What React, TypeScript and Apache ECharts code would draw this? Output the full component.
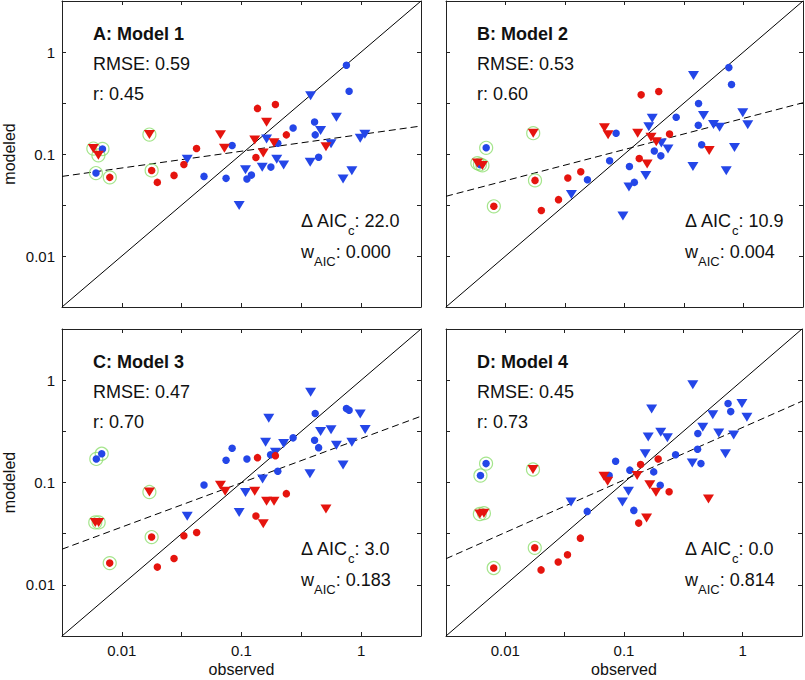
import React, { useEffect, useRef } from "react";
import * as echarts from "echarts";

// ---- DATA: [observed, modeled, flagged(1 = ringed)] ----
const panelLabels = ["A: Model 1", "B: Model 2", "C: Model 3", "D: Model 4"];
const rmseValues = ["0.59", "0.53", "0.47", "0.45"];
const rValues = ["0.45", "0.60", "0.70", "0.73"];
const deltaAICc = ["22.0", "10.9", "3.0", "0.0"];
const wAIC = ["0.000", "0.004", "0.183", "0.814"];
const tickLabelExponents = [-2, -1, 0];
const axisLogMin = -2.5;
const axisLogMax = 0.5;

const A_blueCircles = [
  [0.0486, 0.0603], [0.0743, 0.0577], [0.0835, 0.121], [0.111, 0.0568], [0.121, 0.0621],
  [0.176, 0.0744], [0.201, 0.1276], [0.27, 0.18], [0.413, 0.154], [0.408, 0.206],
  [0.441, 0.093], [0.753, 0.741], [0.793, 0.413], [0.00608, 0.065, 1], [0.00689, 0.112, 1],
];
const A_blueTriangles = [
  [0.0352, 0.089], [0.0956, 0.0312], [0.108, 0.07], [0.149, 0.074], [0.162, 0.14],
  [0.197, 0.089], [0.225, 0.078], [0.378, 0.372], [0.375, 0.083], [0.458, 0.17],
  [0.56, 0.126], [0.621, 0.229], [0.706, 0.0568], [0.836, 0.0685], [0.982, 0.143], [1.074, 0.156],
];
const A_redCircles = [
  [0.0198, 0.0527], [0.0273, 0.0617], [0.033, 0.079], [0.0421, 0.113], [0.136, 0.28],
  [0.132, 0.0924], [0.237, 0.154], [0.192, 0.306], [0.00793, 0.059, 1], [0.01775, 0.069, 1],
];
const A_redTriangles = [
  [0.0667, 0.154], [0.072, 0.114], [0.129, 0.137], [0.162, 0.205], [0.187, 0.129],
  [0.152, 0.102], [0.508, 0.118], [0.00578, 0.113, 1], [0.00637, 0.097, 1], [0.017, 0.155, 1],
];

const B_blueCircles = [
  [0.0488, 0.056], [0.075, 0.0858], [0.085, 0.16], [0.11, 0.0755], [0.121, 0.0527],
  [0.178, 0.107], [0.202, 0.0959], [0.272, 0.229], [0.419, 0.313], [0.417, 0.191],
  [0.445, 0.123], [0.753, 0.703], [0.793, 0.48], [0.00688, 0.115, 1], [0.0061, 0.079, 1],
];
const B_blueTriangles = [
  [0.0358, 0.04], [0.097, 0.0246], [0.109, 0.0475], [0.151, 0.0617], [0.16, 0.185],
  [0.171, 0.224], [0.204, 0.128], [0.232, 0.112], [0.38, 0.588], [0.376, 0.0755],
  [0.461, 0.238], [0.56, 0.195], [0.629, 0.183], [0.716, 0.0685], [0.84, 0.116], [0.986, 0.254], [1.086, 0.194],
];
const B_redCircles = [
  [0.02, 0.0279], [0.0279, 0.0357], [0.0334, 0.0581], [0.0429, 0.067], [0.138, 0.38],
  [0.133, 0.0904], [0.239, 0.157], [0.194, 0.41], [0.00798, 0.0307, 1], [0.0177, 0.0551, 1],
];
const B_redTriangles = [
  [0.0678, 0.181], [0.0728, 0.154], [0.129, 0.16], [0.167, 0.146], [0.185, 0.132],
  [0.155, 0.08], [0.515, 0.108], [0.0058, 0.0814, 1], [0.0064, 0.0773, 1], [0.0171, 0.16, 1],
];

const C_blueCircles = [
  [0.0486, 0.0946], [0.0743, 0.165], [0.0835, 0.216], [0.111, 0.17], [0.175, 0.187],
  [0.201, 0.129], [0.27, 0.273], [0.413, 0.472], [0.408, 0.259], [0.441, 0.219],
  [0.753, 0.528], [0.793, 0.509], [0.00612, 0.17, 1], [0.00679, 0.191, 1],
];
const C_blueTriangles = [
  [0.0352, 0.0467], [0.0956, 0.051], [0.108, 0.08], [0.15, 0.108], [0.169, 0.425],
  [0.159, 0.247], [0.192, 0.197], [0.225, 0.24], [0.378, 0.763], [0.373, 0.122],
  [0.458, 0.315], [0.56, 0.327], [0.621, 0.231], [0.706, 0.148], [0.836, 0.247], [0.982, 0.468], [1.08, 0.329],
];
const C_redCircles = [
  [0.0198, 0.0149], [0.0273, 0.0181], [0.033, 0.0302], [0.0422, 0.0325], [0.136, 0.175],
  [0.132, 0.047], [0.237, 0.0778], [0.192, 0.183], [0.00792, 0.0163, 1], [0.01774, 0.0293, 1],
];
const C_redTriangles = [
  [0.0667, 0.0938], [0.073, 0.082], [0.129, 0.082], [0.162, 0.0654], [0.187, 0.0654],
  [0.152, 0.0395], [0.508, 0.055], [0.006, 0.0407, 1], [0.0064, 0.0407, 1], [0.017, 0.0807, 1],
];

const D_blueCircles = [
  [0.049, 0.0522], [0.075, 0.117], [0.085, 0.161], [0.112, 0.132], [0.121, 0.0534],
  [0.178, 0.127], [0.202, 0.0938], [0.272, 0.187], [0.419, 0.301], [0.417, 0.211],
  [0.445, 0.153], [0.753, 0.591], [0.793, 0.493], [0.00688, 0.153, 1], [0.00617, 0.117, 1],
];
const D_blueTriangles = [
  [0.0358, 0.0644], [0.097, 0.0644], [0.109, 0.082], [0.151, 0.191], [0.16, 0.279],
  [0.171, 0.524], [0.204, 0.31], [0.232, 0.273], [0.38, 0.9], [0.376, 0.155],
  [0.461, 0.347], [0.56, 0.458], [0.629, 0.305], [0.716, 0.191], [0.84, 0.292], [0.986, 0.591], [1.086, 0.435],
];
const D_redCircles = [
  [0.02, 0.014], [0.0279, 0.0167], [0.0334, 0.0197], [0.0429, 0.0286], [0.138, 0.15],
  [0.133, 0.0401], [0.24, 0.0813], [0.194, 0.17], [0.00798, 0.0146, 1], [0.0177, 0.023, 1],
];
const D_redTriangles = [
  [0.0678, 0.115], [0.0728, 0.103], [0.129, 0.117], [0.165, 0.0953], [0.186, 0.0802],
  [0.155, 0.045], [0.515, 0.069], [0.0061, 0.0492, 1], [0.0066, 0.0502, 1], [0.0171, 0.134, 1],
];

// regression (dashed) line end points [observed, modeled]
const A_fit = [[0.0031623, 0.0603], [3.1623, 0.188]];
const B_fit = [[0.0031623, 0.0385], [3.1623, 0.318]];
const C_fit = [[0.0031623, 0.0223], [3.1623, 0.444]];
const D_fit = [[0.0031623, 0.018], [3.1623, 0.623]];
const oneToOne = [[0.0031623, 0.0031623], [3.1623, 3.1623]];

const panels = [
  { bc: A_blueCircles, bt: A_blueTriangles, rc: A_redCircles, rt: A_redTriangles, fit: A_fit },
  { bc: B_blueCircles, bt: B_blueTriangles, rc: B_redCircles, rt: B_redTriangles, fit: B_fit },
  { bc: C_blueCircles, bt: C_blueTriangles, rc: C_redCircles, rt: C_redTriangles, fit: C_fit },
  { bc: D_blueCircles, bt: D_blueTriangles, rc: D_redCircles, rt: D_redTriangles, fit: D_fit },
];

// ---- layout / style ----
const GRIDS = [
  { left: 62, top: 1, width: 359, height: 306 },
  { left: 446, top: 1, width: 357, height: 306 },
  { left: 62, top: 329, width: 359, height: 307 },
  { left: 446, top: 329, width: 357, height: 307 },
];
const FONT = "'Liberation Sans', Arial, Helvetica, sans-serif";
const BLUE = "#2446e8";
const RED = "#e5140e";
const RING = "#8fdf6f";
const INK = "#111";

const toLog = (arr: number[][]) => arr.map((p) => [Math.log10(p[0]), Math.log10(p[1])]);
const ringed = (arr: number[][]) => arr.filter((p) => p[2] === 1);

function tickFormatter(v: number) {
  const r = Math.round(v);
  if (Math.abs(v - r) < 1e-6 && tickLabelExponents.includes(r)) {
    return String(Number(Math.pow(10, r).toFixed(4)));
  }
  return "";
}

export default function App() {
  const ref = useRef<HTMLDivElement>(null);
  useEffect(() => {
    if (!ref.current) return;
    const chart = echarts.init(ref.current, null, { renderer: "svg" });
    const xAxes: any[] = [];
    const yAxes: any[] = [];
    const series: any[] = [];
    const graphic: any[] = [];

    const baseAxis = (gridIndex: number) => ({
      type: "value",
      gridIndex,
      min: axisLogMin,
      max: axisLogMax,
      interval: 0.5,
      splitLine: { show: false },
      axisLine: { show: true, onZero: false, lineStyle: { color: "#222", width: 1 } },
      axisTick: { show: true, inside: true, length: 4, lineStyle: { color: "#222", width: 1 } },
    });

    GRIDS.forEach((g, i) => {
      const bottomRow = i >= 2;
      const leftCol = i % 2 === 0;
      xAxes.push({
        ...baseAxis(i),
        position: "bottom",
        axisLabel: {
          show: bottomRow,
          formatter: tickFormatter,
          margin: 7,
          fontSize: 15,
          color: INK,
          fontFamily: FONT,
        },
        name: bottomRow ? "observed" : "",
        nameLocation: "middle",
        nameGap: 25,
        nameTextStyle: { fontSize: 16, color: INK, fontFamily: FONT },
      });
      xAxes.push({ ...baseAxis(i), position: "top", axisLabel: { show: false } });
      yAxes.push({
        ...baseAxis(i),
        position: "left",
        axisLabel: {
          show: leftCol,
          formatter: tickFormatter,
          margin: 7,
          fontSize: 15,
          color: INK,
          fontFamily: FONT,
        },
        name: leftCol ? "modeled" : "",
        nameLocation: "middle",
        nameGap: 45,
        nameRotate: 90,
        nameTextStyle: { fontSize: 16, color: INK, fontFamily: FONT },
      });
      yAxes.push({ ...baseAxis(i), position: "right", axisLabel: { show: false } });

      const xi = i * 2;
      const yi = i * 2;
      const p = panels[i];

      series.push({
        type: "line",
        xAxisIndex: xi,
        yAxisIndex: yi,
        data: toLog(oneToOne),
        symbol: "none",
        lineStyle: { color: "#000", width: 1 },
        z: 1,
        silent: true,
      });
      series.push({
        type: "line",
        xAxisIndex: xi,
        yAxisIndex: yi,
        data: toLog(p.fit),
        symbol: "none",
        lineStyle: { color: "#000", width: 1, type: [7, 4] },
        z: 1,
        silent: true,
      });
      const allRinged = [...ringed(p.bc), ...ringed(p.bt), ...ringed(p.rc), ...ringed(p.rt)];
      series.push({
        type: "scatter",
        xAxisIndex: xi,
        yAxisIndex: yi,
        data: toLog(allRinged),
        symbol: "circle",
        symbolSize: 13,
        itemStyle: { color: "rgba(255,255,255,0)", borderColor: RING, borderWidth: 1.2 },
        z: 2,
        silent: true,
      });
      const marker = (data: number[][], color: string, tri: boolean) => ({
        type: "scatter",
        xAxisIndex: xi,
        yAxisIndex: yi,
        data: toLog(data),
        symbol: tri ? "triangle" : "circle",
        symbolSize: tri ? [11, 9] : 7.5,
        symbolRotate: tri ? 180 : 0,
        itemStyle: { color, opacity: 1 },
        z: 3,
        silent: true,
      });
      series.push(marker(p.bc, BLUE, false));
      series.push(marker(p.bt, BLUE, true));
      series.push(marker(p.rc, RED, false));
      series.push(marker(p.rt, RED, true));

      const tx = g.left + 31;
      graphic.push({
        type: "text",
        x: tx,
        y: g.top + 33,
        style: { text: panelLabels[i], font: `bold 18px ${FONT}`, fill: INK, verticalAlign: "middle", align: "left" },
      });
      graphic.push({
        type: "text",
        x: tx,
        y: g.top + 63,
        style: { text: "RMSE: " + rmseValues[i], font: `18px ${FONT}`, fill: INK, verticalAlign: "middle", align: "left" },
      });
      graphic.push({
        type: "text",
        x: tx,
        y: g.top + 93,
        style: { text: "r: " + rValues[i], font: `18px ${FONT}`, fill: INK, verticalAlign: "middle", align: "left" },
      });
      const rich = {
        n: { fontSize: 18, fontFamily: FONT, fill: INK, verticalAlign: "top", lineHeight: 20 },
        s: { fontSize: 13, fontFamily: FONT, fill: INK, verticalAlign: "top", lineHeight: 14, padding: [12, 0, 0, 0] },
      };
      graphic.push({
        type: "text",
        x: g.left + 239,
        y: g.top + 218 + 3,
        style: {
          text: `{n|Δ AIC}{s|c}{n|: ${deltaAICc[i]}}`,
          rich,
          verticalAlign: "middle",
          align: "left",
        },
      });
      graphic.push({
        type: "text",
        x: g.left + 239,
        y: g.top + 249 + 3,
        style: {
          text: `{n|w}{s|AIC}{n|: ${wAIC[i]}}`,
          rich,
          verticalAlign: "middle",
          align: "left",
        },
      });
    });

    chart.setOption({
      animation: false,
      backgroundColor: "#fff",
      grid: GRIDS.map((g) => ({ ...g, containLabel: false })),
      xAxis: xAxes,
      yAxis: yAxes,
      series,
      graphic,
    });
    return () => chart.dispose();
  }, []);
  return (
    <div
      ref={ref}
      style={{ position: "absolute", left: 0, top: 0, width: 805, height: 680 }}
    />
  );
}
